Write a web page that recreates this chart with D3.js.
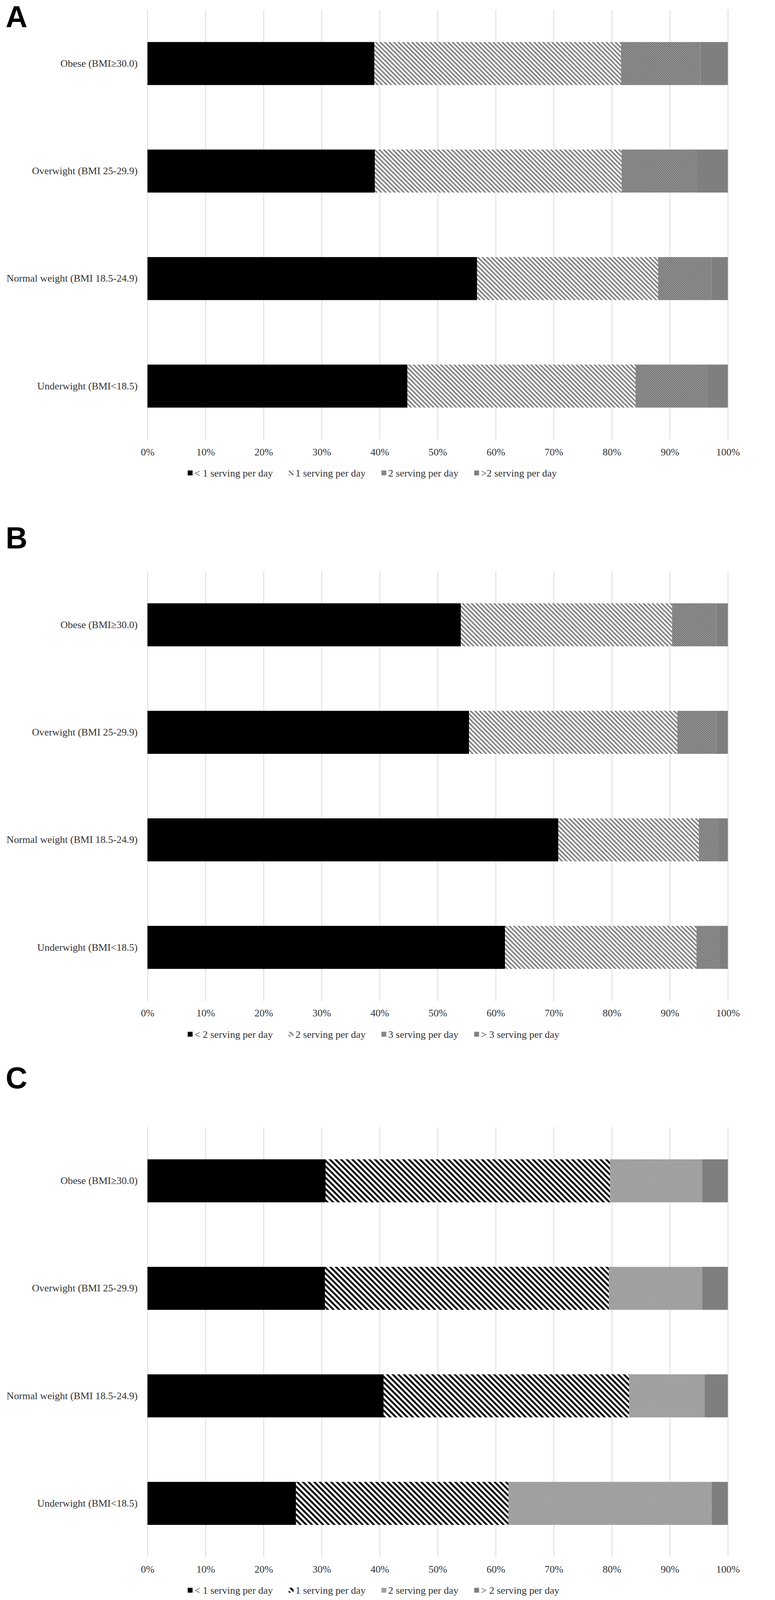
<!DOCTYPE html>
<html>
<head>
<meta charset="utf-8">
<script src="https://cdn.jsdelivr.net/npm/d3@7"></script>
<style>
  html, body { margin: 0; padding: 0; background: #fff; overflow: hidden; }
  text { font-family: "Liberation Serif", "Times New Roman", serif; }
</style>
</head>
<body>
<div id="chart"></div>
<script>
var categories = ["Obese (BMI\u226530.0)", "Overwight (BMI 25-29.9)", "Normal weight (BMI 18.5-24.9)", "Underwight (BMI<18.5)"];

var tickValues = [0, 10, 20, 30, 40, 50, 60, 70, 80, 90, 100];

// percent of each group, one row per category, one column per legend entry
var valuesA = [
    [39.1, 42.5, 13.7, 4.7],
    [39.2, 42.5, 13.1, 5.2],
    [56.8, 31.2, 9.2, 2.8],
    [44.8, 39.3, 12.3, 3.6]
];
var valuesB = [
    [54.0, 36.4, 7.6, 2.0],
    [55.4, 35.9, 6.7, 2.0],
    [70.8, 24.2, 3.5, 1.5],
    [61.6, 33.0, 4.1, 1.3]
];
var valuesC = [
    [30.7, 49.0, 15.9, 4.4],
    [30.6, 48.9, 16.1, 4.4],
    [40.7, 42.3, 13.0, 4.0],
    [25.6, 36.6, 35.0, 2.8]
];

var legendA = ["< 1 serving per day", "1 serving per day", "2 serving per day", ">2 serving per day"];
var legendB = ["< 2 serving per day", "2 serving per day", "3 serving per day", "> 3 serving per day"];
var legendC = ["< 1 serving per day", "1 serving per day", "2 serving per day", "> 2 serving per day"];

var panelLetters = ["A", "B", "C"];

var width = 1983,
    height = 4256,
    left = 392,
    right = 1935,
    gridHeight = 1144;

// layout of the three panels (grid top and letter baseline)
var panels = [
    { values: valuesA, legend: legendA, gridTop: 26, letterY: 73, fills: ["#000", "url(#hatchGrey)", "url(#dotsDark)", "#7f7f7f"] },
    { values: valuesB, legend: legendB, gridTop: 1519, letterY: 1459, fills: ["#000", "url(#hatchGrey)", "url(#dotsDark)", "#7f7f7f"] },
    { values: valuesC, legend: legendC, gridTop: 2998, letterY: 2895, fills: ["#000", "url(#hatchBlack)", "url(#dotsLight)", "#7f7f7f"] }
];

// scale to the window so nothing gets clipped if the viewport is short
var svg = d3.select("#chart").append("svg")
    .attr("viewBox", "0 0 " + width + " " + height)
    .attr("preserveAspectRatio", "xMinYMin meet")
    .style("width", "100vw")
    .style("height", "100vh")
    .style("display", "block");

var defs = svg.append("defs");

function hatch(id, size, stroke, color) {
    var p = defs.append("pattern")
        .attr("id", id)
        .attr("patternUnits", "userSpaceOnUse")
        .attr("width", size)
        .attr("height", size)
        .attr("patternTransform", "rotate(45)");
    p.append("rect").attr("width", size).attr("height", size).attr("fill", "#fff");
    p.append("rect").attr("y", 0).attr("width", size).attr("height", stroke).attr("fill", color);
}

function dots(id, size, r, base, dot) {
    var p = defs.append("pattern")
        .attr("id", id)
        .attr("patternUnits", "userSpaceOnUse")
        .attr("width", size)
        .attr("height", size);
    p.append("rect").attr("width", size).attr("height", size).attr("fill", base);
    p.append("circle").attr("cx", size / 4).attr("cy", size / 4).attr("r", r).attr("fill", dot);
    p.append("circle").attr("cx", size * 3 / 4).attr("cy", size * 3 / 4).attr("r", r).attr("fill", dot);
}

hatch("hatchGrey", 8.5, 4, "#7f7f7f");
hatch("hatchBlack", 10.6, 5, "#000");
dots("dotsDark", 6, 1.1, "#767676", "#c8c8c8");
dots("dotsLight", 4, 0.9, "#888", "#d0d0d0");

var X = d3.scaleLinear()
    .domain([0, 100])
    .range([left, right]);

var stack = d3.stack().keys([0, 1, 2, 3]);

panels.forEach(function(panel, pi) {
    var g = svg.append("g");
    var gridBottom = panel.gridTop + gridHeight;

    var Y = d3.scaleBand()
        .domain(categories)
        .range([panel.gridTop, gridBottom])
        .paddingInner(0.6)
        .paddingOuter(0.3);

    // panel letter
    g.append("text")
        .attr("x", 15)
        .attr("y", panel.letterY)
        .style("font-family", "'Liberation Sans', Arial, sans-serif")
        .style("font-weight", "bold")
        .style("font-size", "80px")
        .text(panelLetters[pi]);

    // vertical gridlines
    g.append("g")
        .attr("transform", "translate(0," + gridBottom + ")")
        .call(d3.axisBottom(X).tickValues(tickValues).tickSize(-gridHeight).tickFormat(""))
        .call(function(a) {
            a.select(".domain").remove();
            a.selectAll("line").attr("stroke", "#d9d9d9").attr("stroke-width", 2);
        });

    // stacked bars
    var rows = panel.values.map(function(v, i) {
        return { cat: categories[i], 0: v[0], 1: v[1], 2: v[2], 3: v[3] };
    });
    var series = stack(rows);

    g.selectAll("g.series")
        .data(series)
        .enter().append("g")
        .attr("class", "series")
        .attr("fill", function(d, i) {
            return panel.fills[i];
        })
        .selectAll("rect")
        .data(function(d) {
            return d;
        })
        .enter().append("rect")
        .attr("x", function(d) {
            return X(d[0]);
        })
        .attr("width", function(d) {
            return X(d[1]) - X(d[0]);
        })
        .attr("y", function(d) {
            return Y(d.data.cat);
        })
        .attr("height", Y.bandwidth());

    // category labels
    g.append("g")
        .attr("transform", "translate(" + left + ",0)")
        .call(d3.axisLeft(Y).tickSize(0).tickPadding(26))
        .call(function(a) {
            a.select(".domain").remove();
            a.selectAll("text")
                .style("font-family", "'Liberation Serif', 'Times New Roman', serif")
                .style("font-size", "27px")
                .attr("fill", "#333");
        });

    // percent labels
    g.append("g")
        .attr("transform", "translate(0," + gridBottom + ")")
        .call(d3.axisBottom(X).tickValues(tickValues).tickSize(0).tickPadding(22).tickFormat(function(d) {
            return d + "%";
        }))
        .call(function(a) {
            a.select(".domain").remove();
            a.selectAll("text")
                .style("font-family", "'Liberation Serif', 'Times New Roman', serif")
                .style("font-size", "27px")
                .attr("fill", "#333");
        });

    // legend
    var ly = gridBottom + 88;
    var lx = 499;
    panel.legend.forEach(function(label, i) {
        g.append("rect")
            .attr("x", lx)
            .attr("y", ly - 6.5)
            .attr("width", 13)
            .attr("height", 13)
            .attr("fill", panel.fills[i]);
        var t = g.append("text")
            .attr("x", lx + 18)
            .attr("y", ly)
            .attr("dy", "0.35em")
            .style("font-size", "27px")
            .attr("fill", "#333")
            .text(label);
        lx += 18 + t.node().getComputedTextLength() + 42;
    });
});
</script>
</body>
</html>
